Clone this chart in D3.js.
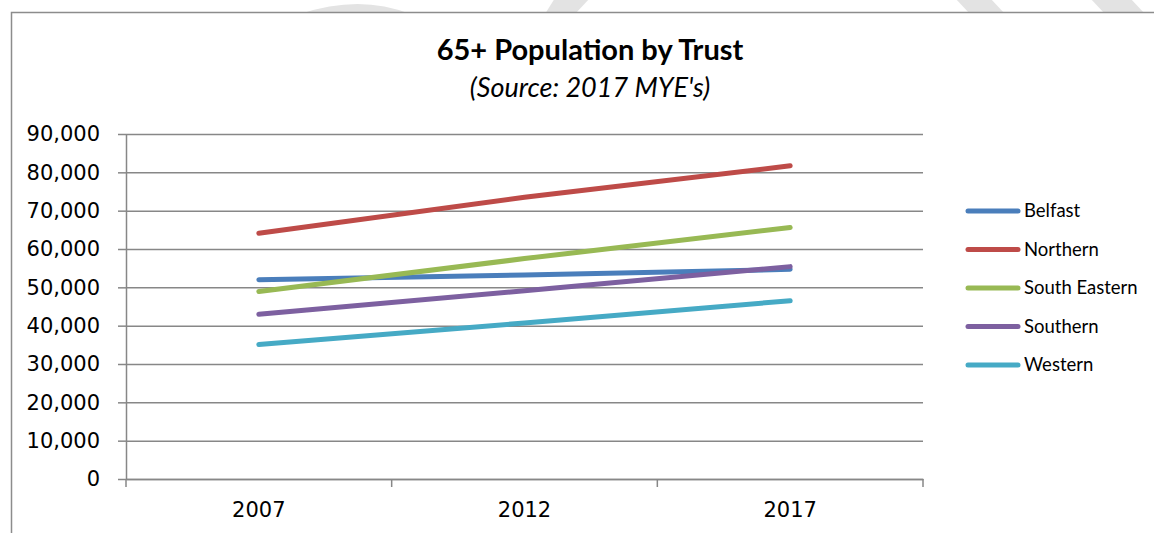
<!DOCTYPE html>
<html lang="en">
  <head>
    <meta charset="UTF-8" />
    <title>65+ Population by Trust</title>
    <style>
      body {
        margin: 0;
        background: #fff;
      }
      svg {
        display: block;
      }
      .title {
        font-family: Lato, "Open Sans", sans-serif;
        font-weight: bold;
        font-size: 29px;
        text-anchor: middle;
      }
      .subtitle {
        font-family: Lato, "Open Sans", sans-serif;
        font-style: italic;
        font-size: 27px;
        text-anchor: middle;
      }
      .axis text {
        font-family: "DejaVu Sans", sans-serif;
        font-size: 21px;
        fill: #000;
      }
      .axis path,
      .axis line,
      .grid line {
        stroke: #878787;
        stroke-width: 1.5;
      }
      .grid path {
        display: none;
      }
      .legend text {
        font-family: Lato, "Open Sans", sans-serif;
        font-size: 18.5px;
      }
    </style>
  </head>
  <body>
    <script src="https://cdn.jsdelivr.net/npm/d3@7"></script>
    <script>
      const years = ["2007", "2012", "2017"];
      const trusts = ["Belfast", "Northern", "South Eastern", "Southern", "Western"];
      const belfast = [52000, 53200, 54700];
      const northern = [64100, 73500, 81700];
      const southEastern = [48900, 57500, 65600];
      const southern = [43000, 49100, 55400];
      const western = [35100, 40700, 46500];
      const yTicks = [0, 10000, 20000, 30000, 40000, 50000, 60000, 70000, 80000, 90000];
      const colors = ["#4a7ebb", "#be4b48", "#98b954", "#7d60a0", "#46aac5"];

      const series = [belfast, northern, southEastern, southern, western];

      const width = 1154;
      const height = 533;
      const plotLeft = 126;
      const plotRight = 923;
      const plotTop = 134;
      const plotBottom = 479;

      const svg = d3
        .select("body")
        .append("svg")
        .attr("width", width)
        .attr("height", height);

      // faint watermark shapes peeking above the chart box
      const wm = svg.append("g").attr("fill", "#e3e3e3");
      wm.append("path").attr("d", "M300,14 Q360,-6 410,14 Z");
      wm.append("path").attr("d", "M545,14 L555,-2 L590,-2 L575,14 Z");
      wm.append("path").attr("d", "M955,-2 L990,-2 L1005,14 L970,14 Z");
      wm.append("path").attr("d", "M1090,-2 L1130,-2 L1145,14 L1105,14 Z");

      // chart box (runs off the right / bottom edge)
      svg
        .append("rect")
        .attr("x", 11.5)
        .attr("y", 12.5)
        .attr("width", 1200)
        .attr("height", 600)
        .attr("fill", "#fff")
        .attr("stroke", "#8c8c8c")
        .attr("stroke-width", 1.5);

      svg.append("text").attr("class", "title").attr("x", 590).attr("y", 60).text("65+ Population by Trust");
      svg.append("text").attr("class", "subtitle").attr("x", 590).attr("y", 97).text("(Source: 2017 MYE's)");

      const x = d3.scaleBand().domain(years).range([plotLeft, plotRight]).padding(0);
      const y = d3.scaleLinear().domain([0, 90000]).range([plotBottom, plotTop]);

      // horizontal gridlines
      svg
        .append("g")
        .attr("class", "grid")
        .attr("transform", `translate(${plotLeft},0)`)
        .call(d3.axisLeft(y).tickValues(yTicks).tickSize(-(plotRight - plotLeft)).tickFormat(""));

      // y axis
      svg
        .append("g")
        .attr("class", "axis")
        .attr("transform", `translate(${plotLeft},0)`)
        .call(
          d3
            .axisLeft(y)
            .tickValues(yTicks)
            .tickSizeInner(8)
            .tickSizeOuter(0)
            .tickPadding(18)
            .tickFormat(d3.format(","))
        );

      // x axis: labels in band centres, ticks on band edges
      const xAxis = svg
        .append("g")
        .attr("class", "axis")
        .attr("transform", `translate(0,${plotBottom})`)
        .call(d3.axisBottom(x).tickSize(0).tickSizeOuter(0).tickPadding(23));
      xAxis.selectAll(".tick line").remove();
      const edges = years.map((d) => x(d)).concat([x(years[years.length - 1]) + x.bandwidth()]);
      xAxis
        .selectAll(".edge")
        .data(edges)
        .enter()
        .append("line")
        .attr("class", "edge")
        .attr("x1", (d) => d)
        .attr("x2", (d) => d)
        .attr("y1", 0)
        .attr("y2", 8);

      const line = d3
        .line()
        .x((d, i) => x(years[i]) + x.bandwidth() / 2)
        .y((d) => y(d));

      svg
        .append("g")
        .selectAll("path")
        .data(series)
        .enter()
        .append("path")
        .attr("d", (d) => line(d))
        .attr("fill", "none")
        .attr("stroke", (d, i) => colors[i])
        .attr("stroke-width", 5)
        .attr("stroke-linecap", "round");

      // legend
      const legend = svg.append("g").attr("class", "legend");
      for (let i = 0; i < trusts.length; i++) {
        const ly = 211 + i * 38.5;
        legend
          .append("line")
          .attr("x1", 968)
          .attr("x2", 1018)
          .attr("y1", ly)
          .attr("y2", ly)
          .attr("stroke", colors[i])
          .attr("stroke-width", 5)
          .attr("stroke-linecap", "round");
        legend
          .append("text")
          .attr("x", 1024)
          .attr("y", ly + 6)
          .text(trusts[i]);
      }
    </script>
  </body>
</html>
